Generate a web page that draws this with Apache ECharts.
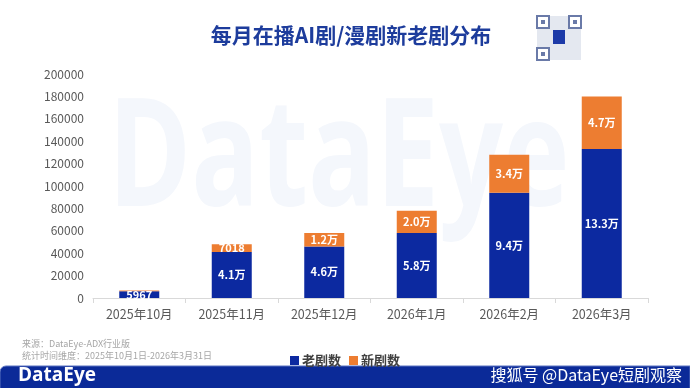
<!DOCTYPE html>
<html><head><meta charset="utf-8">
<script src="https://cdn.jsdelivr.net/npm/echarts@6/dist/echarts.min.js"></script>
<style>html,body{margin:0;padding:0;background:#fff}#c{width:690px;height:388px}</style>
</head><body><div id="c"></div>
<script>
var categories = ['2025年10月','2025年11月','2025年12月','2026年1月','2026年2月','2026年3月'];
var oldDramas = [5967, 41000, 46000, 58000, 94000, 133000];
var newDramas = [800, 7018, 12000, 20000, 34000, 47000];
var oldLabels = ['5967','4.1万','4.6万','5.8万','9.4万','13.3万'];
var newLabels = ['','7018','1.2万','2.0万','3.4万','4.7万'];
var yTicks = [0,20000,40000,60000,80000,100000,120000,140000,160000,180000,200000];

var FONT = '"Noto Sans CJK SC", "Noto Sans", sans-serif';
var chart = echarts.init(document.getElementById('c'), null, {renderer:'canvas'});

// QR-like decoration
var qr = [];
var qx = 537, qy = 16, qs = 44;
qr.push({type:'rect', shape:{x:qx,y:qy,width:qs,height:qs}, style:{fill:'#e4e8f0'}, z:1});
[[0,0],[qs-12,0],[0,qs-12]].forEach(function(p){
  qr.push({type:'rect', shape:{x:qx+p[0],y:qy+p[1],width:12,height:12}, style:{fill:'#fff',stroke:'#6a7aa8',lineWidth:2}, z:2});
  qr.push({type:'rect', shape:{x:qx+p[0]+4,y:qy+p[1]+4,width:4,height:4}, style:{fill:'#6a7aa8'}, z:3});
});
qr.push({type:'rect', shape:{x:qx+16,y:qy+14,width:12,height:14}, style:{fill:'#1c3aa8'}, z:3});

chart.setOption({
  backgroundColor:'#fff',
  animation:false,
  textStyle:{fontFamily:FONT},
  title:{
    text:'每月在播AI剧/漫剧新老剧分布',
    left:346, top:20, textAlign:'center',
    textStyle:{fontFamily:FONT, fontSize:21, fontWeight:'bold', color:'#1d3c9c'}
  },
  legend:{
    data:['老剧数','新剧数'],
    left:'center', top:349,
    itemWidth:9, itemHeight:9, itemGap:8,
    icon:'rect',
    textStyle:{fontFamily:FONT, fontSize:13, fontWeight:'bold', color:'#404040', padding:[0,0,0,-2]}
  },
  grid:{left:93, right:42, top:74, bottom:90},
  xAxis:{
    type:'category', data:categories,
    axisLine:{lineStyle:{color:'#d9d9d9'}},
    axisTick:{show:true, length:5, lineStyle:{color:'#d9d9d9'}},
    axisLabel:{fontFamily:FONT, fontSize:12.5, color:'#595959', margin:10}
  },
  yAxis:{
    type:'value', min:yTicks[0], max:yTicks[yTicks.length-1], interval:20000,
    splitLine:{show:false},
    axisLine:{show:false}, axisTick:{show:false},
    axisLabel:{fontFamily:FONT, fontSize:12, color:'#595959', margin:9,
      formatter:function(v){return String(v);}}
  },
  series:[
    {name:'老剧数', type:'bar', stack:'s', barWidth:40, data:oldDramas,
     itemStyle:{color:'#0c29a0'},
     label:{show:true, position:'inside', color:'#fff', fontSize:11, fontWeight:'bold',
       formatter:function(p){return oldLabels[p.dataIndex];}}},
    {name:'新剧数', type:'bar', stack:'s', barWidth:40, data:newDramas,
     itemStyle:{color:'#ed7d31'},
     label:{show:true, position:'inside', color:'#fff', fontSize:11, fontWeight:'bold',
       formatter:function(p){return newLabels[p.dataIndex];}}}
  ],
  graphic:[
    {type:'text', x:108, y:88, scaleX:0.75, z:-10, silent:true,
     style:{text:'DataEye', fontFamily:'"Open Sans", sans-serif', fontSize:150, fontWeight:'bold', fill:'#f4f7fc'}},
    {type:'group', children:qr},
    {type:'text', left:22, top:339, style:{text:'来源：DataEye-ADX行业版', fontFamily:FONT, fontSize:9, fill:'#a6a6a6'}},
    {type:'text', left:22, top:351, style:{text:'统计时间维度：2025年10月1日-2026年3月31日', fontFamily:FONT, fontSize:9, fill:'#a6a6a6'}},
    {type:'rect', shape:{x:0,y:366,width:690,height:30,r:[6,0,0,0]}, style:{fill:'#0b2a98', stroke:'#5a72c0', lineWidth:1}},
    {type:'text', left:18, top:366, style:{text:'DataEye', fontFamily:'"Open Sans", sans-serif', fontSize:19, fontWeight:'bold', fill:'#fff'}},
    {type:'text', right:8, top:367, style:{text:'搜狐号 @DataEye短剧观察', fontFamily:FONT, fontSize:16, fill:'#fff'}}
  ]
});
</script></body></html>
